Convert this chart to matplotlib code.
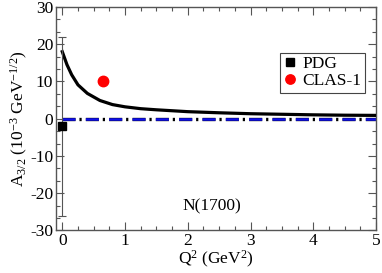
import numpy as np
import matplotlib
matplotlib.use('Agg')
import matplotlib.pyplot as plt
from matplotlib.ticker import MultipleLocator

plt.rcParams['font.family'] = ['Liberation Serif', 'DejaVu Serif']
plt.rcParams['mathtext.fontset'] = 'custom'
plt.rcParams['mathtext.rm'] = 'Liberation Serif'
plt.rcParams['mathtext.it'] = 'Liberation Serif:italic'
plt.rcParams['lines.scale_dashes'] = False
plt.rcParams['axes.unicode_minus'] = False

# model curve
q2_model = [0.0, 0.075, 0.15, 0.25, 0.4, 0.6, 0.8, 1.0, 1.25, 1.5, 2.0, 2.5, 3.0, 3.5, 4.0, 4.5, 5.0]
a32_model = [18.0, 14.5, 11.8, 9.1, 6.8, 4.9, 3.8, 3.2, 2.7, 2.4, 1.9, 1.6, 1.35, 1.2, 1.05, 0.95, 0.9]

# zero line
q2_zero = [0.0, 5.0]
a32_zero = [0.0, 0.0]

# data
q2_pdg = [0.0]
a32_pdg = [-2.0]
err_pdg = [24.0]
q2_clas = [0.65]
a32_clas = [10.0]

fs = 12.5

fig = plt.figure(figsize=(3.82, 2.73), dpi=100)
ax = fig.add_axes([0.1466, 0.1557, 0.8377, 0.8187])

ax.plot(q2_model, a32_model, color='black', lw=2.3, zorder=3)
ax.plot(q2_zero, a32_zero, color='black', lw=2.4, dashes=(9.4, 2.8, 1.6, 3.0), zorder=2)
ax.plot(q2_zero, a32_zero, color='#1010ee', lw=1.8, dashes=(9.4, 7.4), zorder=2)

ax.errorbar(q2_pdg, a32_pdg, yerr=err_pdg, fmt='none', ecolor='#555555', elinewidth=0.8, capsize=3, capthick=0.8, zorder=4)
ax.plot(q2_pdg, a32_pdg, 's', color='black', ms=6, label='PDG', zorder=5)
ax.plot(q2_clas, a32_clas, 'o', color='red', ms=7.5, mec='red', label='CLAS-1', zorder=5)

ax.set_xlim(-0.1, 5)
ax.set_ylim(-30, 30)
ax.xaxis.set_major_locator(MultipleLocator(1))
ax.xaxis.set_minor_locator(MultipleLocator(0.25))
ax.yaxis.set_major_locator(MultipleLocator(10))
ax.yaxis.set_minor_locator(MultipleLocator(10 / 3))
ax.tick_params(which='both', direction='in', top=True, right=True, colors='#555555', labelcolor='black', labelsize=fs)
ax.tick_params(which='major', length=6, width=0.8, pad=2)
ax.tick_params(which='minor', length=3, width=0.8)
for s in ax.spines.values():
    s.set_color('#555555')
    s.set_linewidth(1.0)

ax.set_xlabel(r'Q$^2$ (GeV$^2$)', fontsize=fs, labelpad=0)
ax.set_ylabel(r'A$_{\mathit{3/2}}$ (10$^{-3}$ GeV$^{\mathit{-1/2}}$)', fontsize=fs, labelpad=0)

ax.text(2.38, -23.6, 'N(1700)', fontsize=fs, ha='center', va='center')

leg = ax.legend(loc='upper left', bbox_to_anchor=(0.70, 0.795), borderaxespad=0, fontsize=fs,
                handlelength=0.7, handletextpad=0.4, borderpad=0.2, labelspacing=0.05,
                markerscale=0.9, fancybox=False, framealpha=1, edgecolor='#444444')
leg.get_frame().set_linewidth(0.8)

fig.savefig('out.png', dpi=100)
